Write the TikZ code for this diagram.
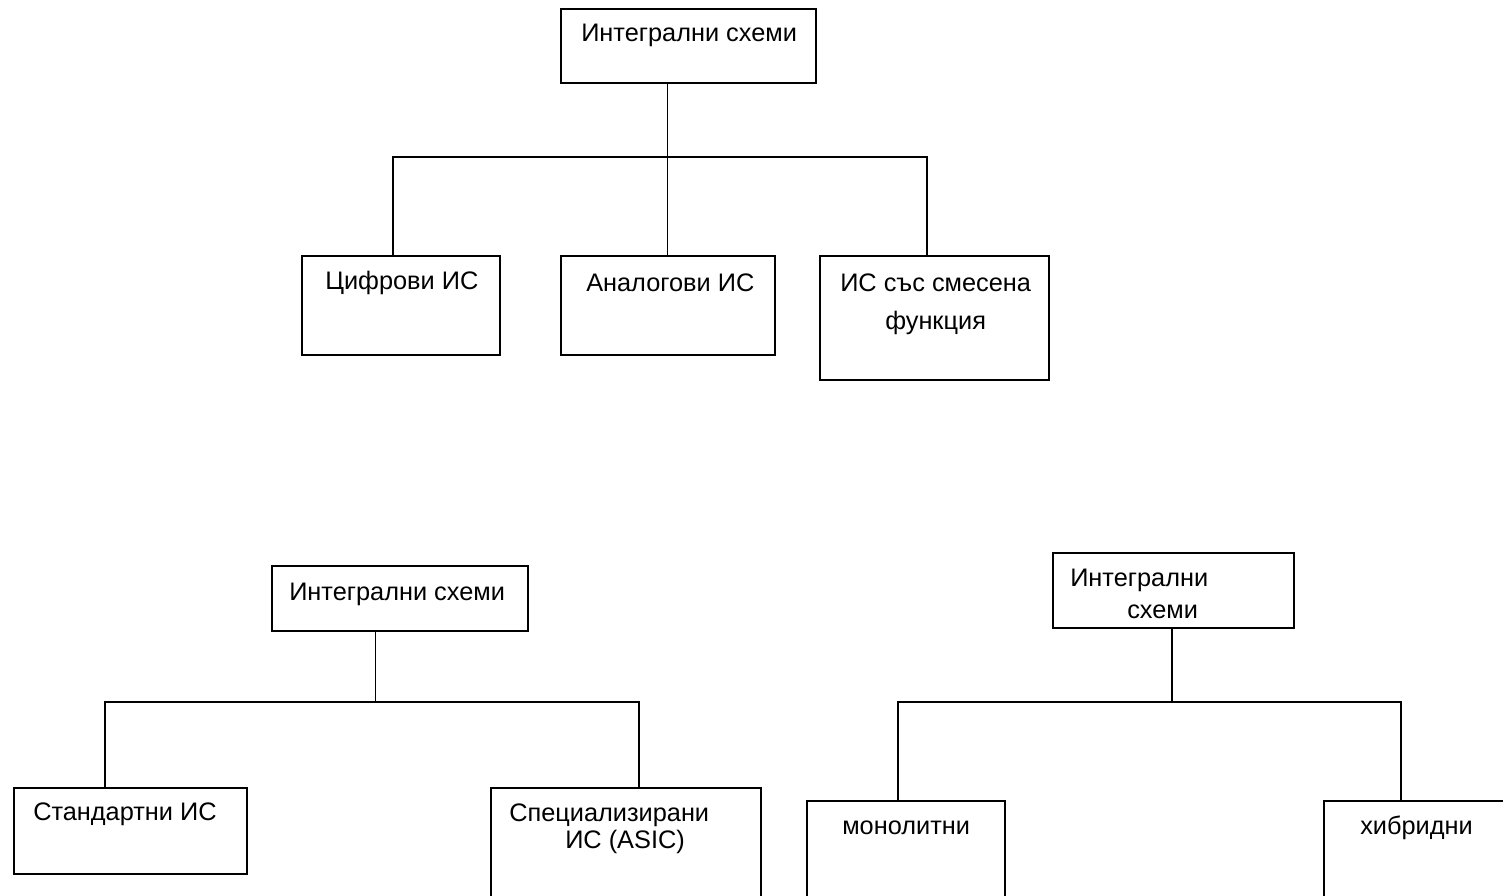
\documentclass[tikz,border=0pt]{standalone}
\usepackage{fontspec}
\setmainfont{Liberation Sans}

\begin{document}
\begin{tikzpicture}[x=0.75pt,y=0.75pt,yscale=-1,xscale=1,
  box/.style={draw,rectangle,line width=1.4pt,inner sep=0pt},
  conn/.style={line width=1.1pt},
  txt/.style={anchor=west,inner sep=0.75pt,font=\fontsize{19}{23}\selectfont}]
%set diagram left start at 0, and has height of 896
\clip (0,0) rectangle (1503,896);
\fill [white] (0,0) rectangle (1503,896);

%Shape: Rectangle [top tree]
\node [box,minimum width=255*0.75pt,minimum height=74*0.75pt] (top) at (688.5,46) {};
\node [box,minimum width=198*0.75pt,minimum height=99*0.75pt] (cif) at (401,305.5) {};
\node [box,minimum width=214*0.75pt,minimum height=99*0.75pt] (ana) at (668,305.5) {};
\node [box,minimum width=229*0.75pt,minimum height=124*0.75pt] (mix) at (934.5,318) {};
%Shape: Rectangle [bottom left tree]
\node [box,minimum width=256*0.75pt,minimum height=65*0.75pt] (kind) at (400,598.5) {};
\node [box,minimum width=233*0.75pt,minimum height=86*0.75pt] (std) at (130.5,831) {};
\node [box,minimum width=270*0.75pt,minimum height=130*0.75pt] (asic) at (626,853) {};
%Shape: Rectangle [bottom right tree]
\node [box,minimum width=241*0.75pt,minimum height=75*0.75pt] (tech) at (1173.5,590.5) {};
\node [box,minimum width=198*0.75pt,minimum height=120*0.75pt] (mono) at (906,861) {};
\node [box,minimum width=220*0.75pt,minimum height=120*0.75pt] (hyb) at (1434,861) {};

%Straight Lines [top tree]
\coordinate (b1) at (667.5,157);
\coordinate (b1l) at (393,157);
\coordinate (b1r) at (927,157);
\draw [conn] (top.south -| b1) -- (b1);
\draw [conn] (cif.north -| b1l) |- (b1r) -- (b1r |- mix.north);
\draw [conn] (b1) -- (b1 |- ana.north);
%Straight Lines [bottom left tree]
\coordinate (b2) at (375.5,702);
\coordinate (b2l) at (105,702);
\coordinate (b2r) at (639,702);
\draw [conn] (kind.south -| b2) -- (b2);
\draw [conn] (std.north -| b2l) |- (b2r) -- (b2r |- asic.north);
%Straight Lines [bottom right tree]
\coordinate (b3) at (1172,702);
\coordinate (b3l) at (898,702);
\coordinate (b3r) at (1401,702);
\draw [conn] (tech.south -| b3) -- (b3);
\draw [conn] (mono.north -| b3l) |- (b3r) -- (b3r |- hyb.north);

% Text Node
\node [txt] (ttop) at (580,35) {Интегрални схеми};
% Text Node
\node [txt] (tcif) at (324,283) {Цифрови ИС};
% Text Node
\node [txt] (tana) at (585,283) {Аналогови ИС};
% Text Node
\node [txt] (tmix) at (839,283) {ИС със смесена};
\node [txt] (tmix2) at (884,323) {функция};
% Text Node
\node [txt] (tkind) at (288,594) {Интегрални схеми};
% Text Node
\node [txt] (tstd) at (32,814) {Стандартни ИС};
% Text Node
\node [txt] (tasic) at (508,815) {Специализирани};
\node [txt] (tasic2) at (564,842) {ИС (ASIC)};
% Text Node
\node [txt] (ttech) at (1069,580) {Интегрални};
\node [txt] (ttech2) at (1126,612) {схеми};
% Text Node
\node [txt] (tmono) at (841,828) {монолитни};
% Text Node
\node [txt] (thyb) at (1359,828) {хибридни};

\end{tikzpicture}
\end{document}
